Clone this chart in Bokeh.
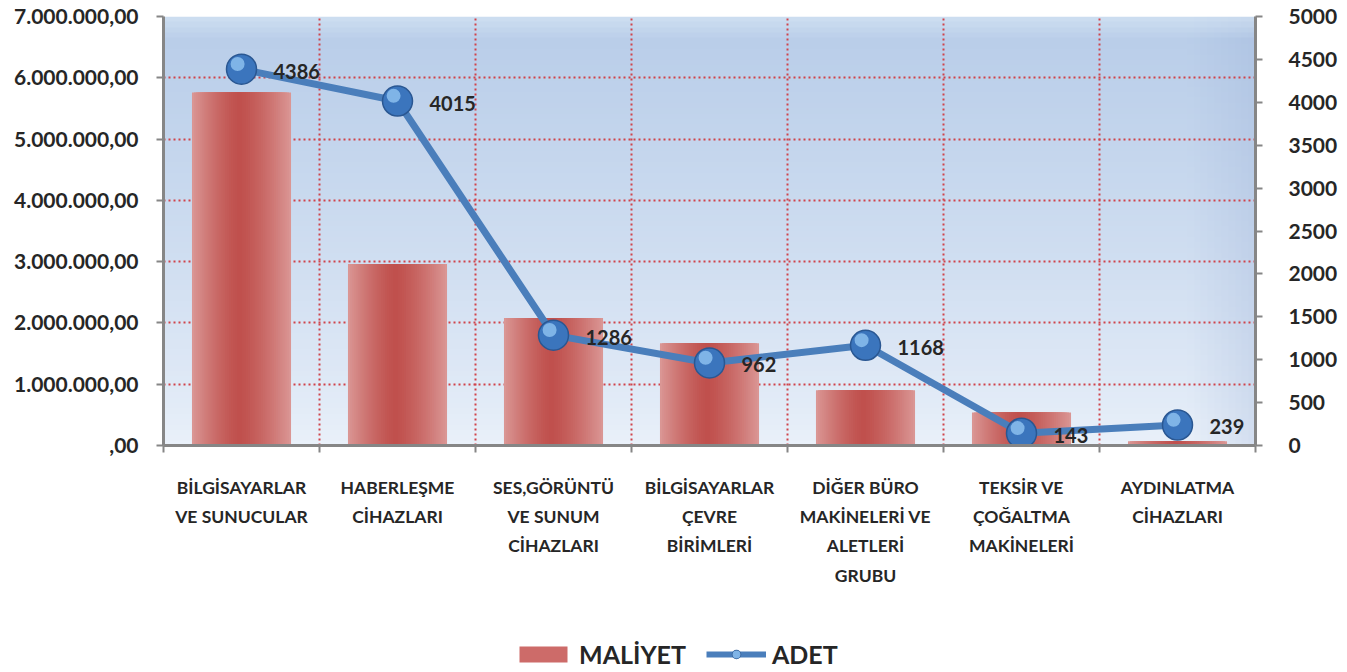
import numpy as np
from bokeh.plotting import figure
from bokeh.layouts import column
from bokeh.models import (Range1d, LinearAxis, FixedTicker, ColumnDataSource,
                          Legend, LegendItem)
from bokeh.transform import dodge
from bokeh.core.properties import value
from bokeh.embed import file_html
from bokeh.resources import INLINE

# ---------------- data ----------------
categories = [
    "BİLGİSAYARLAR\nVE SUNUCULAR",
    "HABERLEŞME\nCİHAZLARI",
    "SES,GÖRÜNTÜ\nVE SUNUM\nCİHAZLARI",
    "BİLGİSAYARLAR\nÇEVRE\nBİRİMLERİ",
    "DİĞER BÜRO\nMAKİNELERİ VE\nALETLERİ\nGRUBU",
    "TEKSİR VE\nÇOĞALTMA\nMAKİNELERİ",
    "AYDINLATMA\nCİHAZLARI",
]
maliyet = [5760000, 2960000, 2080000, 1670000, 900000, 540000, 70000]
adet = [4386, 4015, 1286, 962, 1168, 143, 239]
left_ticks = [0, 1000000, 2000000, 3000000, 4000000, 5000000, 6000000, 7000000]
left_labels = [",00", "1.000.000,00", "2.000.000,00", "3.000.000,00",
               "4.000.000,00", "5.000.000,00", "6.000.000,00", "7.000.000,00"]
right_ticks = [0, 500, 1000, 1500, 2000, 2500, 3000, 3500, 4000, 4500, 5000]
series_names = ["MALİYET", "ADET"]

FONT = "Lato"
TXT = "#262626"
BAR_MID = "#cd6b69"
LINE_C = "#4a7ebb"
MARK_FILL = "#3b75bd"
MARK_LINE = "#2a5792"
HL_C = "#8cc0ef"

xs = list(range(1, len(categories) + 1))
src = ColumnDataSource(dict(x=xs, maliyet=maliyet, adet=adet,
                            label=[str(a) for a in adet]))

p = figure(width=1340, height=630,
           x_range=Range1d(0.5, len(categories) + 0.5),
           y_range=Range1d(0, 7000000),
           output_backend="svg", toolbar_location=None,
           min_border_left=163, min_border_right=82,
           min_border_top=16, min_border_bottom=185)
p.extra_y_ranges = {"adet": Range1d(0, 5000)}
p.outline_line_color = None
p.background_fill_color = "white"
p.border_fill_color = "white"

# ---------------- background gradient (decoration) ----------------
H, W = 80, 160
img = np.empty((H, W), dtype=np.uint32)
view = img.view(dtype=np.uint8).reshape((H, W, 4))
t = np.linspace(0, 1, H)[:, None]
u = np.linspace(0, 1, W)[None, :]
bottom = np.array([234, 241, 250])
top = np.array([184, 205, 233])
tt = (t ** 0.8)[..., None]
col = bottom[None, None, :] * (1 - tt) + top[None, None, :] * tt
col = np.broadcast_to(col, (H, W, 3)).copy()
edge = np.clip((u - 0.94) / 0.06, 0, 1)[..., None]
col = col * (1 - 0.25 * edge) + np.array([150, 172, 212])[None, None, :] * 0.25 * edge
topband = np.clip((t - 0.95) / 0.05, 0, 1)[..., None]
col = col * (1 - 0.5 * topband) + np.array([225, 238, 248])[None, None, :] * 0.5 * topband
view[..., 0] = col[..., 0].astype(np.uint8)
view[..., 1] = col[..., 1].astype(np.uint8)
view[..., 2] = col[..., 2].astype(np.uint8)
view[..., 3] = 255
p.image_rgba(image=[img], x=0.5, y=0, dw=len(categories), dh=7000000, level="image")

# ---------------- axes ----------------
AX = "#868686"
p.yaxis.ticker = FixedTicker(ticks=left_ticks)
p.yaxis.major_label_overrides = {t_: l for t_, l in zip(left_ticks, left_labels)}
p.xaxis.ticker = FixedTicker(ticks=xs, minor_ticks=[x - 0.5 for x in xs] + [xs[-1] + 0.5])
p.xaxis.major_label_overrides = {x: c for x, c in zip(xs, categories)}

ry = LinearAxis(y_range_name="adet", ticker=FixedTicker(ticks=right_ticks))
p.add_layout(ry, "right")

for ax in [p.xaxis[0], p.yaxis[0], ry]:
    ax.axis_line_color = AX
    ax.axis_line_width = 3
    ax.major_tick_line_color = AX
    ax.major_tick_line_width = 2
    ax.major_tick_in = 0
    ax.major_tick_out = 7
    ax.minor_tick_line_color = None
    ax.major_label_text_font = FONT
    ax.major_label_text_font_style = "bold"
    ax.major_label_text_color = TXT
    ax.major_label_text_font_size = "21px"
    ax.major_label_standoff = 18
ry.major_label_standoff = 26

xa = p.xaxis[0]
xa.major_tick_line_color = None
xa.minor_tick_line_color = AX
xa.minor_tick_line_width = 2
xa.minor_tick_in = 0
xa.minor_tick_out = 7
xa.major_label_text_font_size = "17.5px"
xa.major_label_standoff = 24
xa.major_label_text_line_height = 1.4

# ---------------- grid ----------------
GRID = "#d0434a"
p.ygrid.ticker = FixedTicker(ticks=left_ticks[1:])
p.ygrid.grid_line_color = GRID
p.ygrid.grid_line_dash = "2 3"
p.ygrid.grid_line_width = 2
p.xgrid.ticker = FixedTicker(ticks=[x + 0.5 for x in xs[:-1]])
p.xgrid.grid_line_color = GRID
p.xgrid.grid_line_dash = "2 3"
p.xgrid.grid_line_width = 2

# ---------------- bars with horizontal gradient (nested, outer -> inner) ----------------
bw = 0.635
n = 24
edge_c = np.array([218, 150, 148])
mid_c = np.array([192, 80, 77])
for k in range(n):
    w = bw * (1 - k / n)
    d = w / bw
    f = d ** 1.4
    c = (mid_c * (1 - f) + edge_c * f).astype(int)
    colr = "#%02x%02x%02x" % tuple(c)
    shift = -0.015 * (1 - d)
    p.vbar(x=dodge("x", shift, range=p.x_range), top="maliyet", width=w,
           bottom=0, source=src, fill_color=colr, line_color=None)

# ---------------- line with spheres ----------------
p.line("x", "adet", source=src, y_range_name="adet", line_color=LINE_C, line_width=7)
p.scatter("x", "adet", source=src, y_range_name="adet", size=30,
          fill_color=MARK_FILL, line_color=MARK_LINE, line_width=1.5)
p.scatter(dodge("x", -0.025, range=p.x_range), dodge("adet", 60), source=src,
          y_range_name="adet", size=14, fill_color=HL_C, line_color=None,
          fill_alpha=0.85)

p.text("x", "adet", text="label", source=src, y_range_name="adet",
       x_offset=32, y_offset=2, text_align="left", text_baseline="middle",
       text_font=value(FONT), text_font_style="bold", text_font_size="20px",
       text_color=TXT)

# ---------------- legend (separate strip below) ----------------
lg = figure(width=1340, height=42, x_range=Range1d(0, 1), y_range=Range1d(0, 1),
            output_backend="svg", toolbar_location=None,
            min_border_left=0, min_border_right=0, min_border_top=0, min_border_bottom=0,
            x_axis_location=None, y_axis_location=None)
lg.outline_line_color = None
lg.xgrid.visible = False
lg.ygrid.visible = False
# one point outside the visible range so that legend swatches can be drawn
off_src = ColumnDataSource(dict(x=[-10], y=[-10], top=[-10]))
r_bar = lg.vbar(x="x", top="top", width=0.1, source=off_src, fill_color=BAR_MID, line_color=None)
r_ln = lg.line("x", "y", source=off_src, line_color=LINE_C, line_width=6)
r_mk = lg.scatter("x", "y", source=off_src, size=26, fill_color=MARK_FILL,
                  line_color=MARK_LINE, line_width=1.5)
r_hl = lg.scatter("x", "y", source=off_src, size=11, fill_color=HL_C, line_color=None,
                  fill_alpha=0.85)
legend = Legend(items=[
    LegendItem(label=series_names[0], renderers=[r_bar]),
    LegendItem(label=series_names[1], renderers=[r_ln, r_mk, r_hl]),
], orientation="horizontal", location=(350, 3),
    glyph_width=60, glyph_height=20, spacing=20, label_standoff=6,
    label_text_font=FONT, label_text_font_style="bold", label_text_font_size="25px",
    label_text_color=TXT, border_line_color=None, background_fill_alpha=0,
    margin=0, padding=6)
lg.add_layout(legend, "center")

layout = column(p, lg, spacing=0)
open("out.html", "w").write(file_html(layout, INLINE))
